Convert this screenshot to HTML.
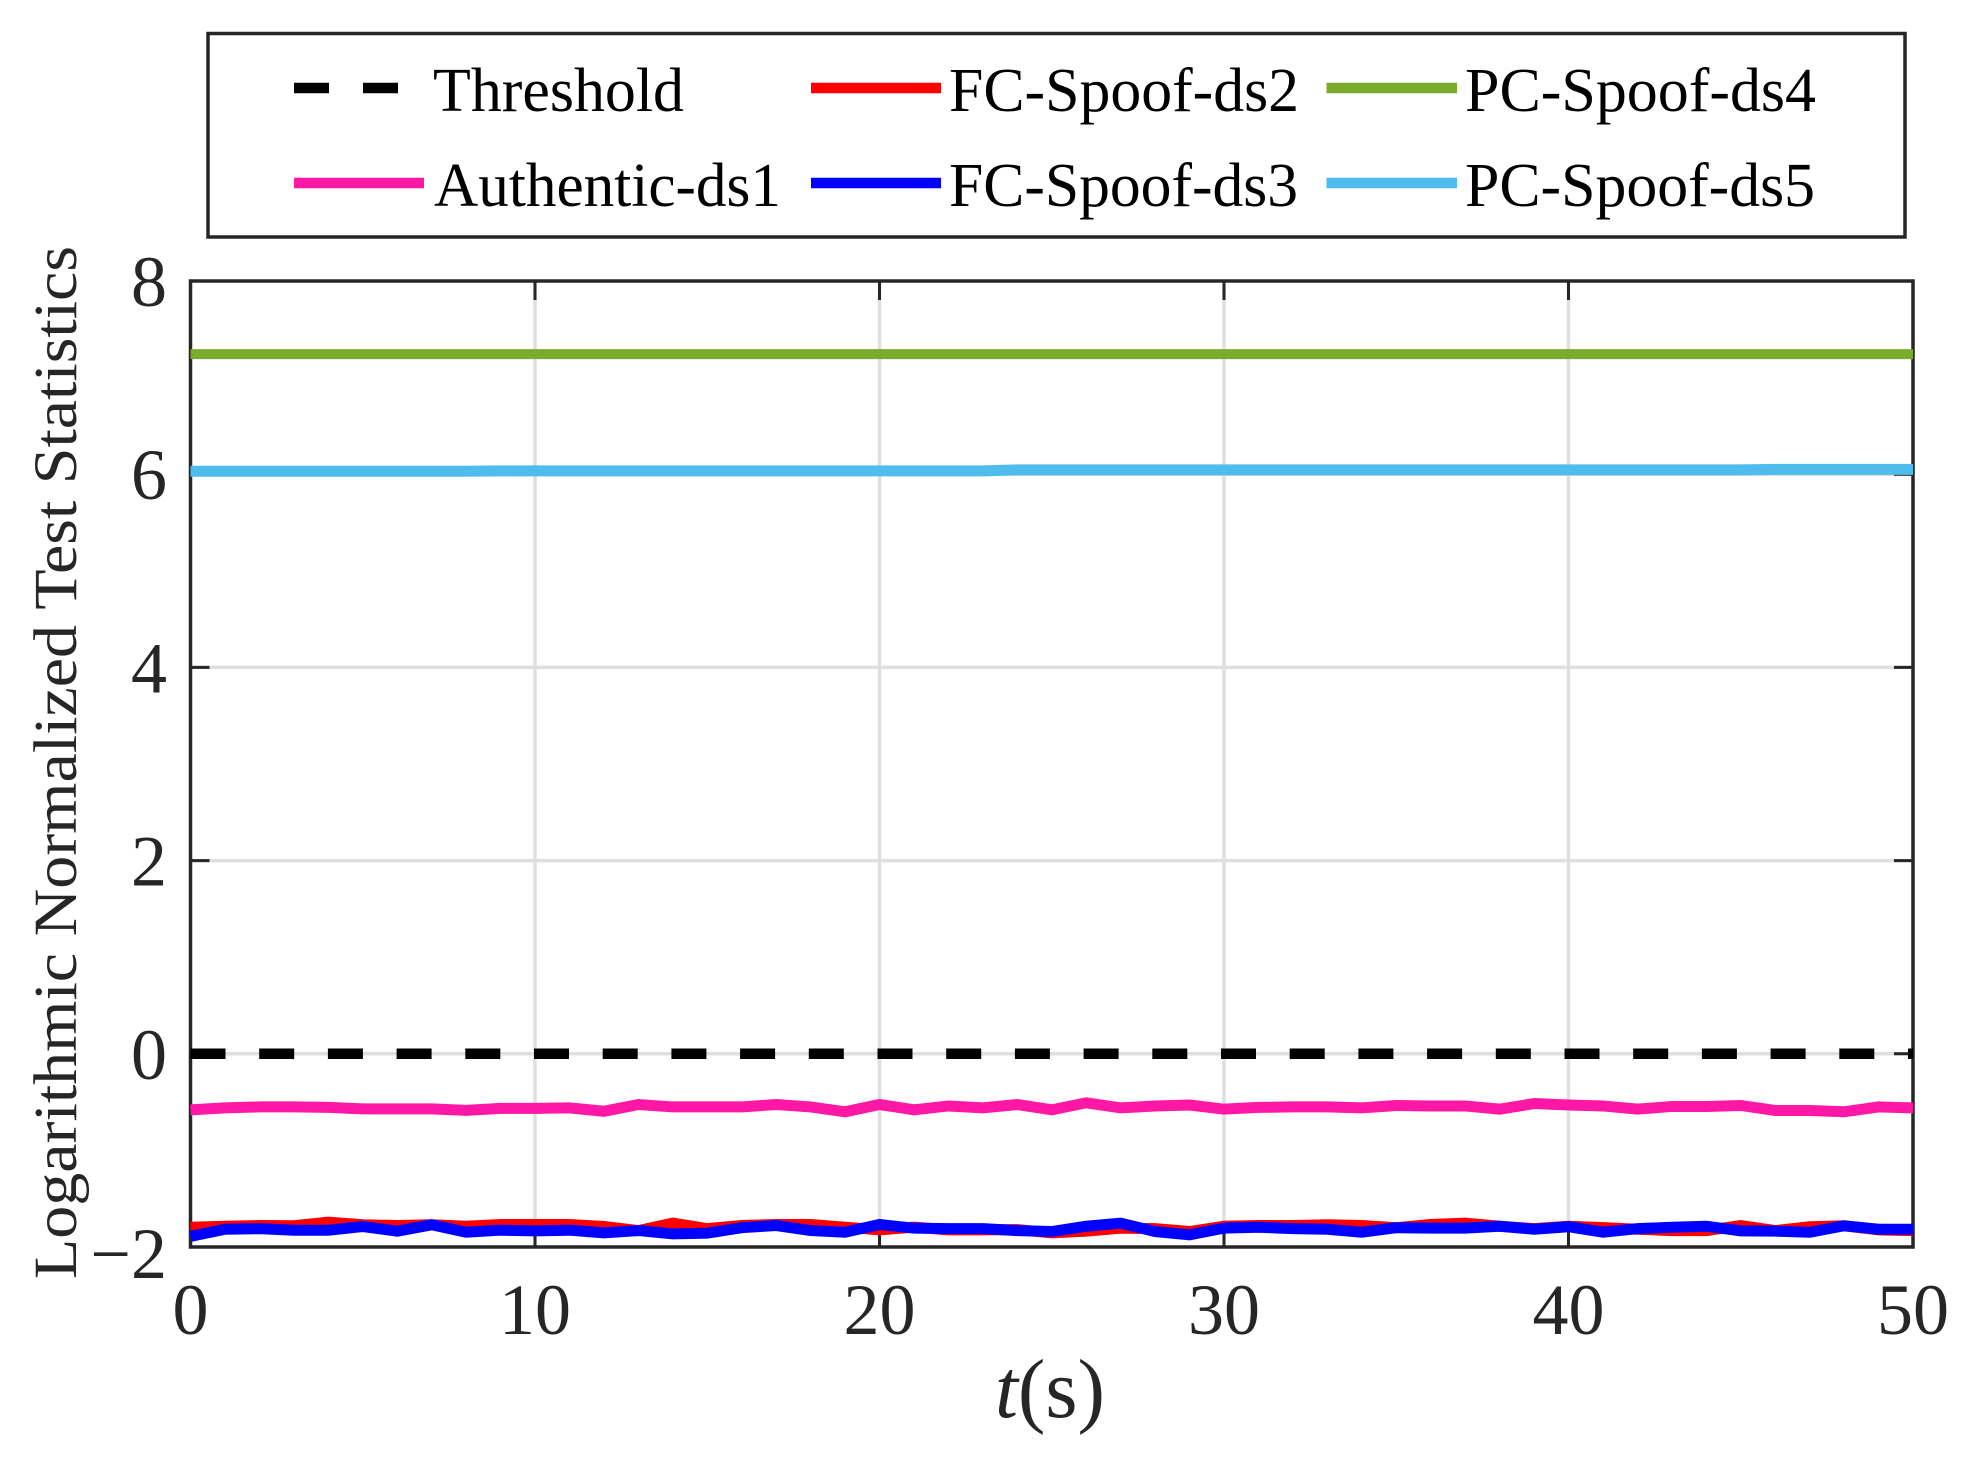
<!DOCTYPE html>
<html lang="en">
<head>
<meta charset="utf-8">
<title>Logarithmic Normalized Test Statistics</title>
<style>
html,body{margin:0;padding:0;background:#fff;width:1968px;height:1463px;overflow:hidden}
svg{display:block}
text{font-family:"Liberation Serif",serif}
</style>
</head>
<body>
<svg id="chart" xmlns="http://www.w3.org/2000/svg" width="1968" height="1463" viewBox="0 0 1968 1463">
  <rect x="0" y="0" width="1968" height="1463" fill="#ffffff"/>
  <g id="grid" stroke="#dfdfdf" stroke-width="3.5" fill="none"></g>
  <g id="ticks" stroke="#262626" stroke-width="3" fill="none"></g>
  <rect x="190.5" y="281" width="1722.5" height="966" fill="none" stroke="#262626" stroke-width="3.5"/>
  <g id="tick-labels" fill="#262626" font-size="72"></g>
  <g id="series" fill="none"></g>

  <text y="1417" x="995" font-size="84" fill="#262626" textLength="110" lengthAdjust="spacingAndGlyphs"><tspan font-style="italic">t</tspan>(s)</text>
  <text transform="translate(76 1279) rotate(-90)" font-size="61" fill="#262626" textLength="1033" lengthAdjust="spacingAndGlyphs">Logarithmic Normalized Test Statistics</text>

  <g>
    <rect x="208" y="33.5" width="1697" height="203.5" fill="#ffffff" stroke="#262626" stroke-width="3.5"/>
    <line x1="294" x2="398" y1="88" y2="88" stroke="#000000" stroke-width="10.5" stroke-dasharray="35 34"/>
    <text x="433" y="111" font-size="62" fill="#000" textLength="251" lengthAdjust="spacingAndGlyphs">Threshold</text>
    <line x1="294" x2="424" y1="183" y2="183" stroke="#ff17a5" stroke-width="10.5"/>
    <text x="434" y="206" font-size="62" fill="#000" textLength="347" lengthAdjust="spacingAndGlyphs">Authentic-ds1</text>
    <line x1="811" x2="941" y1="88" y2="88" stroke="#ff0000" stroke-width="10.5"/>
    <text x="949" y="111" font-size="62" fill="#000" textLength="350" lengthAdjust="spacingAndGlyphs">FC-Spoof-ds2</text>
    <line x1="811" x2="941" y1="183" y2="183" stroke="#0000ff" stroke-width="10.5"/>
    <text x="949" y="206" font-size="62" fill="#000" textLength="349" lengthAdjust="spacingAndGlyphs">FC-Spoof-ds3</text>
    <line x1="1326.5" x2="1457" y1="88" y2="88" stroke="#7aab2f" stroke-width="10.5"/>
    <text x="1465" y="111" font-size="62" fill="#000" textLength="351" lengthAdjust="spacingAndGlyphs">PC-Spoof-ds4</text>
    <line x1="1326.5" x2="1457" y1="183" y2="183" stroke="#4fbcee" stroke-width="10.5"/>
    <text x="1465" y="206" font-size="62" fill="#000" textLength="350" lengthAdjust="spacingAndGlyphs">PC-Spoof-ds5</text>
  </g>
</svg>
<script>
const xTickValues = [0, 10, 20, 30, 40, 50];
const yTickValues = [-2, 0, 2, 4, 6, 8];
const xTickLabels = ["0", "10", "20", "30", "40", "50"];
const yTickLabels = ["\u22122", "0", "2", "4", "6", "8"];

const timeSeconds = [0,1,2,3,4,5,6,7,8,9,10,11,12,13,14,15,16,17,18,19,20,21,22,23,24,25,26,27,28,29,30,31,32,33,34,35,36,37,38,39,40,41,42,43,44,45,46,47,48,49,50];

const thresholdValues = [0,0,0,0,0,0,0,0,0,0,0,0,0,0,0,0,0,0,0,0,0,0,0,0,0,0,0,0,0,0,0,0,0,0,0,0,0,0,0,0,0,0,0,0,0,0,0,0,0,0,0];

const authenticDs1 = [-0.58,-0.56,-0.55,-0.55,-0.555,-0.57,-0.57,-0.57,-0.585,-0.565,-0.565,-0.56,-0.595,-0.525,-0.55,-0.55,-0.55,-0.525,-0.55,-0.6,-0.525,-0.58,-0.54,-0.56,-0.525,-0.58,-0.507,-0.56,-0.54,-0.53,-0.573,-0.555,-0.55,-0.55,-0.56,-0.535,-0.54,-0.54,-0.573,-0.515,-0.53,-0.54,-0.573,-0.545,-0.545,-0.535,-0.587,-0.587,-0.6,-0.55,-0.56];

const fcSpoofDs2 = [-1.795,-1.785,-1.778,-1.78,-1.743,-1.77,-1.778,-1.77,-1.785,-1.767,-1.767,-1.767,-1.788,-1.83,-1.753,-1.81,-1.778,-1.767,-1.767,-1.795,-1.823,-1.795,-1.823,-1.823,-1.82,-1.854,-1.836,-1.805,-1.81,-1.84,-1.785,-1.778,-1.778,-1.77,-1.778,-1.8,-1.767,-1.753,-1.785,-1.81,-1.785,-1.8,-1.816,-1.83,-1.83,-1.778,-1.83,-1.79,-1.78,-1.823,-1.83];

const fcSpoofDs3 = [-1.89,-1.816,-1.81,-1.826,-1.826,-1.788,-1.836,-1.77,-1.847,-1.826,-1.833,-1.826,-1.854,-1.83,-1.864,-1.857,-1.8,-1.778,-1.83,-1.847,-1.767,-1.805,-1.81,-1.81,-1.83,-1.84,-1.785,-1.753,-1.84,-1.874,-1.805,-1.795,-1.81,-1.816,-1.847,-1.8,-1.805,-1.805,-1.785,-1.816,-1.79,-1.847,-1.81,-1.795,-1.785,-1.833,-1.836,-1.847,-1.78,-1.816,-1.816];

const pcSpoofDs4 = [7.243,7.243,7.243,7.243,7.243,7.243,7.243,7.243,7.243,7.243,7.243,7.243,7.243,7.243,7.243,7.243,7.243,7.243,7.243,7.243,7.243,7.243,7.243,7.243,7.243,7.243,7.243,7.243,7.243,7.243,7.243,7.243,7.243,7.243,7.243,7.243,7.243,7.243,7.243,7.243,7.243,7.243,7.243,7.243,7.243,7.243,7.243,7.243,7.243,7.243,7.243];

const pcSpoofDs5 = [6.03,6.03,6.03,6.03,6.03,6.03,6.03,6.03,6.03,6.035,6.035,6.035,6.035,6.035,6.035,6.035,6.035,6.035,6.035,6.035,6.035,6.035,6.035,6.035,6.045,6.045,6.045,6.045,6.045,6.045,6.045,6.045,6.045,6.045,6.045,6.045,6.045,6.045,6.045,6.045,6.045,6.045,6.045,6.045,6.045,6.045,6.05,6.05,6.05,6.05,6.05];

const SVG_NS = "http://www.w3.org/2000/svg";
const plotLeft = 190.5, plotRight = 1913, plotTop = 281, plotBottom = 1247;
const xMin = 0, xMax = 50, yMin = -2, yMax = 8;
function xScale(v) { return plotLeft + (v - xMin) / (xMax - xMin) * (plotRight - plotLeft); }
function yScale(v) { return plotBottom - (v - yMin) / (yMax - yMin) * (plotBottom - plotTop); }

function make(tag, parent) {
  const el = document.createElementNS(SVG_NS, tag);
  parent.appendChild(el);
  return el;
}
function setLine(el, x1, y1, x2, y2) {
  el.setAttribute('x1', x1); el.setAttribute('y1', y1);
  el.setAttribute('x2', x2); el.setAttribute('y2', y2);
}

const gridGroup = document.getElementById('grid');
const tickGroup = document.getElementById('ticks');
const labelGroup = document.getElementById('tick-labels');
const seriesGroup = document.getElementById('series');
const tickLength = 19;

xTickValues.forEach(function (v, i) {
  const px = xScale(v);
  if (v !== xMin && v !== xMax) {
    const g = make('line', gridGroup);
    
    
    setLine(g, px, plotTop, px, plotBottom);
    const t1 = make('line', tickGroup);
    
    
    setLine(t1, px, plotBottom, px, plotBottom - tickLength);
    const t2 = make('line', tickGroup);
    
    
    setLine(t2, px, plotTop, px, plotTop + tickLength);
  }
  const lab = make('text', labelGroup);
  
  
  lab.setAttribute('x', px);
  lab.setAttribute('y', 1334);
  lab.setAttribute('text-anchor', 'middle');
  lab.textContent = xTickLabels[i];
});

yTickValues.forEach(function (v, i) {
  const py = yScale(v);
  if (v !== yMin && v !== yMax) {
    const g = make('line', gridGroup);
    
    
    setLine(g, plotLeft, py, plotRight, py);
    const t1 = make('line', tickGroup);
    
    
    setLine(t1, plotLeft, py, plotLeft + tickLength, py);
    const t2 = make('line', tickGroup);
    
    
    setLine(t2, plotRight, py, plotRight - tickLength, py);
  }
  const lab = make('text', labelGroup);
  
  
  lab.setAttribute('x', 167);
  lab.setAttribute('y', py + (v < 0 ? 31 : 25));
  lab.setAttribute('text-anchor', 'end');
  lab.textContent = yTickLabels[i];
});

function linePath(values) {
  return values.map(function (v, i) {
    return (i ? 'L' : 'M') + xScale(timeSeconds[i]).toFixed(2) + ' ' + yScale(v).toFixed(2);
  }).join(' ');
}

const thresholdPath = make('path', seriesGroup);


thresholdPath.setAttribute('d', linePath(thresholdValues));
thresholdPath.setAttribute('stroke', '#000000');
thresholdPath.setAttribute('stroke-width', '10.5');
thresholdPath.setAttribute('stroke-dasharray', '35 33.7');

const authenticPath = make('path', seriesGroup);


authenticPath.setAttribute('d', linePath(authenticDs1));
authenticPath.setAttribute('stroke', '#ff17a5');
authenticPath.setAttribute('stroke-width', '11');

const fc2Path = make('path', seriesGroup);


fc2Path.setAttribute('d', linePath(fcSpoofDs2));
fc2Path.setAttribute('stroke', '#ff0000');
fc2Path.setAttribute('stroke-width', '11');

const fc3Path = make('path', seriesGroup);


fc3Path.setAttribute('d', linePath(fcSpoofDs3));
fc3Path.setAttribute('stroke', '#0000ff');
fc3Path.setAttribute('stroke-width', '11');

const pc4Path = make('path', seriesGroup);


pc4Path.setAttribute('d', linePath(pcSpoofDs4));
pc4Path.setAttribute('stroke', '#7aab2f');
pc4Path.setAttribute('stroke-width', '10');

const pc5Path = make('path', seriesGroup);


pc5Path.setAttribute('d', linePath(pcSpoofDs5));
pc5Path.setAttribute('stroke', '#4fbcee');
pc5Path.setAttribute('stroke-width', '11');
</script>
</body>
</html>
